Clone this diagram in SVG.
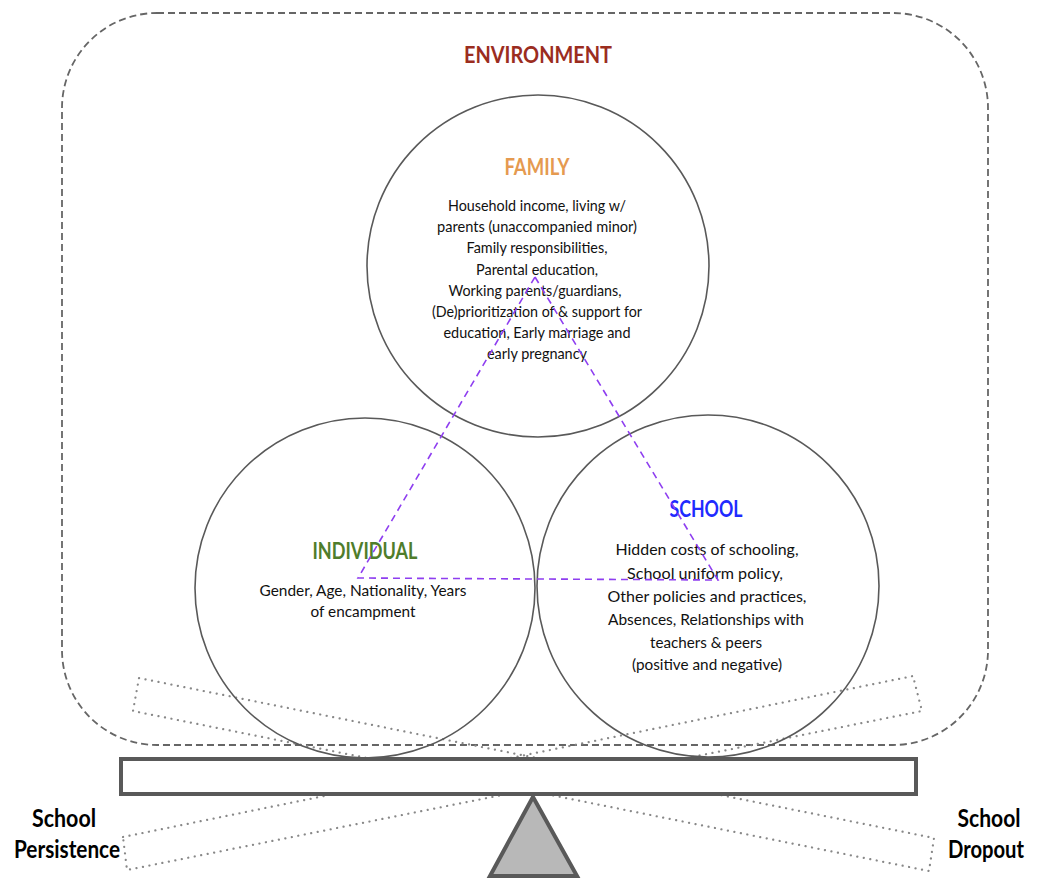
<svg xmlns="http://www.w3.org/2000/svg" width="1038" height="880" viewBox="0 0 1038 880">
<style>
.env{fill:none;stroke:#666;stroke-width:1.8;stroke-dasharray:7 4}
.circ{fill:none;stroke:#595959;stroke-width:1.6}
.ghost{fill:none;stroke:#888;stroke-width:2.2;stroke-dasharray:0.1 6.5;stroke-linecap:round}
.tri{fill:none;stroke:#8e3ef0;stroke-width:1.6;stroke-dasharray:7 5}
.head{font-family:Lato,"Liberation Sans",sans-serif;font-weight:bold;font-size:23px;text-anchor:middle}
.body{font-family:Lato,"Liberation Sans",sans-serif;font-size:15px;fill:#111;text-anchor:middle}
.side{font-family:Lato,"Liberation Sans",sans-serif;font-weight:bold;font-size:24px;fill:#000;text-anchor:middle}
</style>
<rect width="1038" height="880" fill="#fff"/>
<g id="environment">
<rect class="env" x="62" y="13" width="926" height="732" rx="95" ry="95"/>
<text class="head" x="538" y="63" fill="#9b2d1f" font-size="24" textLength="148" lengthAdjust="spacingAndGlyphs">ENVIRONMENT</text>
</g>
<g id="ghost-beams">
<polygon class="ghost" points="139,678 934,838 929,871 133,711"/>
<polygon class="ghost" points="123,837 913,676 922,711 127,870"/>
</g>
<g id="family">
<circle class="circ" cx="538" cy="266" r="171"/>
<text class="head" x="537" y="175" fill="#e59a50" textLength="65" lengthAdjust="spacingAndGlyphs">FAMILY</text>
<text class="body" x="537" y="211" textLength="178" lengthAdjust="spacingAndGlyphs">Household income, living w/</text>
<text class="body" x="537" y="232" textLength="200" lengthAdjust="spacingAndGlyphs">parents (unaccompanied minor)</text>
<text class="body" x="537" y="253" textLength="141" lengthAdjust="spacingAndGlyphs">Family responsibilities,</text>
<text class="body" x="537" y="275" textLength="122" lengthAdjust="spacingAndGlyphs">Parental education,</text>
<text class="body" x="535" y="296" textLength="173" lengthAdjust="spacingAndGlyphs">Working parents/guardians,</text>
<text class="body" x="537" y="317" textLength="210" lengthAdjust="spacingAndGlyphs">(De)prioritization of &amp; support for</text>
<text class="body" x="537" y="338" textLength="187" lengthAdjust="spacingAndGlyphs">education, Early marriage and</text>
<text class="body" x="537" y="359" textLength="100" lengthAdjust="spacingAndGlyphs">early pregnancy</text>
</g>
<g id="individual">
<circle class="circ" cx="365" cy="588" r="170"/>
<text class="head" x="365" y="559" fill="#4f7d2b" textLength="105" lengthAdjust="spacingAndGlyphs">INDIVIDUAL</text>
<text class="body" x="363" y="596" textLength="207" lengthAdjust="spacingAndGlyphs">Gender, Age, Nationality, Years</text>
<text class="body" x="363" y="617" textLength="105" lengthAdjust="spacingAndGlyphs">of encampment</text>
</g>
<g id="school">
<circle class="circ" cx="708" cy="586" r="171"/>
<text class="head" x="706" y="517" fill="#1f2bff" textLength="73" lengthAdjust="spacingAndGlyphs">SCHOOL</text>
<text class="body" x="707" y="555" textLength="183" lengthAdjust="spacingAndGlyphs">Hidden costs of schooling,</text>
<text class="body" x="705" y="579" textLength="156" lengthAdjust="spacingAndGlyphs">School uniform policy,</text>
<text class="body" x="707" y="602" textLength="199" lengthAdjust="spacingAndGlyphs">Other policies and practices,</text>
<text class="body" x="706" y="625" textLength="196" lengthAdjust="spacingAndGlyphs">Absences, Relationships with</text>
<text class="body" x="706" y="648" textLength="112" lengthAdjust="spacingAndGlyphs">teachers &amp; peers</text>
<text class="body" x="707" y="670" textLength="150" lengthAdjust="spacingAndGlyphs">(positive and negative)</text>
</g>
<g id="connectors">
<polygon class="tri" points="535,277 718,580 358,578"/>
</g>
<g id="seesaw">
<rect x="121" y="759" width="795" height="35" fill="#fff" stroke="#595959" stroke-width="4"/>
<polygon points="533,797 577,876 490,876" fill="#b8b8b8" stroke="#595959" stroke-width="4" stroke-linejoin="miter"/>
</g>
<g id="labels">
<text class="side" x="64" y="827" textLength="64" lengthAdjust="spacingAndGlyphs">School</text>
<text class="side" x="67" y="858" textLength="106" lengthAdjust="spacingAndGlyphs">Persistence</text>
<text class="side" x="989" y="827" textLength="63" lengthAdjust="spacingAndGlyphs">School</text>
<text class="side" x="986" y="858" font-size="22" textLength="76" lengthAdjust="spacingAndGlyphs">Dropout</text>
</g>
</svg>
